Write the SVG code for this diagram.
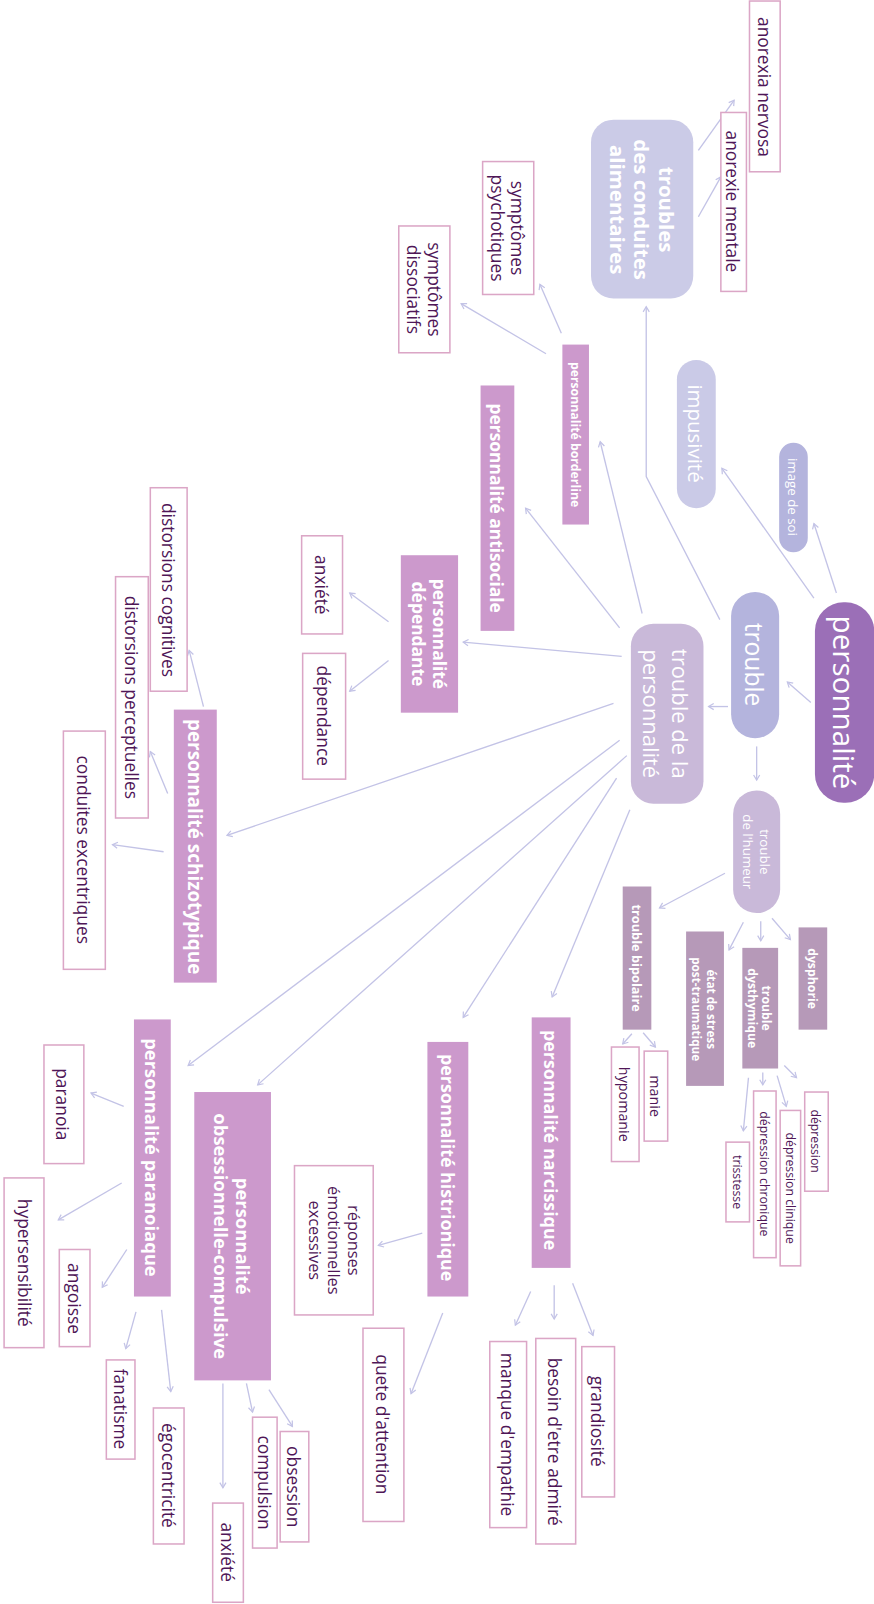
<svg xmlns="http://www.w3.org/2000/svg" width="874" height="1604" viewBox="0 0 874 1604">
<defs>
<marker id="ah" markerWidth="8" markerHeight="8" refX="6" refY="4" orient="auto" markerUnits="userSpaceOnUse">
<path d="M1,1 L6,4 L1,7" fill="none" stroke="#c3c3e6" stroke-width="1.2"/>
</marker>
<style>
text{font-family:"Open Sans","Noto Sans","Liberation Sans",sans-serif;text-anchor:middle;dominant-baseline:central}
.w{fill:#ffffff}
.b{font-weight:bold}
.leaf rect{fill:#ffffff;stroke:#dba6c6;stroke-width:1.5}
.leaf text{fill:#4f1657}
.pp rect{fill:#cc99cc}
.pp text{fill:#ffffff;font-weight:bold}
.md rect{fill:#b699b8}
.md text{fill:#ffffff;font-weight:bold}
#connectors line,#connectors polyline{stroke:#c3c3e6;stroke-width:1.3;fill:none;marker-end:url(#ah)}
</style>
</defs>
<rect width="874" height="1604" fill="#ffffff"/>
<g transform="scale(1.0225)">
<g id="connectors">
<line x1="793" y1="687" x2="770" y2="667"/>
<line x1="818" y1="580" x2="796" y2="512"/>
<line x1="796" y1="585" x2="706" y2="458"/>
<line x1="712" y1="691" x2="693" y2="691"/>
<line x1="740" y1="730" x2="740" y2="763"/>
<polyline points="704,606 632,466 632,300"/>
<line x1="683" y1="147" x2="718" y2="98"/>
<line x1="683" y1="212" x2="705" y2="173"/>
<line x1="628" y1="600" x2="587" y2="432"/>
<line x1="606" y1="614" x2="514" y2="497"/>
<line x1="608" y1="642" x2="453" y2="628"/>
<line x1="600" y1="688" x2="222" y2="817"/>
<line x1="606" y1="724" x2="184" y2="1042"/>
<line x1="613" y1="739" x2="252" y2="1061"/>
<line x1="603" y1="761" x2="453" y2="995"/>
<line x1="616" y1="792" x2="540" y2="975"/>
<line x1="709" y1="854" x2="645" y2="888"/>
<line x1="727" y1="902" x2="713" y2="929"/>
<line x1="744" y1="901" x2="744" y2="920"/>
<line x1="755" y1="898" x2="773" y2="919"/>
<line x1="549" y1="326" x2="528" y2="278"/>
<line x1="534" y1="346" x2="451" y2="297"/>
<line x1="380" y1="608" x2="342" y2="580"/>
<line x1="380" y1="646" x2="342" y2="676"/>
<line x1="199" y1="691" x2="185" y2="636"/>
<line x1="164" y1="776" x2="147" y2="735"/>
<line x1="160" y1="833" x2="110" y2="826"/>
<line x1="629" y1="1010" x2="641" y2="1024"/>
<line x1="618" y1="1011" x2="609" y2="1021"/>
<line x1="767" y1="1042" x2="779" y2="1054"/>
<line x1="760" y1="1052" x2="769" y2="1082"/>
<line x1="746" y1="1049" x2="746" y2="1061"/>
<line x1="732" y1="1054" x2="727" y2="1106"/>
<line x1="560" y1="1255" x2="580" y2="1306"/>
<line x1="542" y1="1257" x2="542" y2="1290"/>
<line x1="519" y1="1263" x2="504" y2="1296"/>
<line x1="433" y1="1284" x2="402" y2="1363"/>
<line x1="413" y1="1206" x2="370" y2="1218"/>
<line x1="121" y1="1082" x2="89" y2="1069"/>
<line x1="119" y1="1157" x2="57" y2="1193"/>
<line x1="124" y1="1222" x2="100" y2="1259"/>
<line x1="133" y1="1283" x2="123" y2="1319"/>
<line x1="158" y1="1281" x2="167" y2="1361"/>
<line x1="218" y1="1353" x2="218" y2="1455"/>
<line x1="241" y1="1353" x2="247" y2="1381"/>
<line x1="263" y1="1359" x2="286" y2="1395"/>
</g>

<g id="n-personnalite"><rect x="797" y="589" width="58" height="196" rx="28" fill="#9b6fb7"/><text class="w" transform="translate(826,687) rotate(90)" font-size="29">personnalité</text></g>
<g id="n-trouble"><rect x="715" y="579" width="47" height="143" rx="23.5" fill="#b4b4dd"/><text class="w" transform="translate(738,650) rotate(90)" font-size="24">trouble</text></g>
<g id="n-tdlp"><rect x="617" y="610" width="71" height="176" rx="22" fill="#c9b9d9"/><text class="w" transform="translate(652,698) rotate(90)" font-size="21.5"><tspan x="0" y="-14">trouble de la</tspan><tspan x="0" y="14">personnalité</tspan></text></g>
<g id="n-humeur"><rect x="717" y="773" width="46" height="120" rx="23" fill="#c9b9d9"/><text class="w" transform="translate(740,833) rotate(90)" font-size="13"><tspan x="0" y="-8">trouble</tspan><tspan x="0" y="8">de l'humeur</tspan></text></g>
<g id="n-image"><rect x="762" y="433" width="28" height="107" rx="14" fill="#b4b4dd"/><text class="w" transform="translate(776,486) rotate(90)" font-size="13">image de soi</text></g>
<g id="n-impulsivite"><rect x="662" y="352" width="38" height="145" rx="19" fill="#cacae7"/><text class="w" transform="translate(681,424) rotate(90)" font-size="20">impusivité</text></g>
<g id="n-tca"><rect x="578" y="117" width="100" height="175" rx="22" fill="#cbcbe7"/><text class="w b" transform="translate(628,205) rotate(90)" font-size="20"><tspan x="0" y="-24">troubles</tspan><tspan x="0" y="0">des conduites</tspan><tspan x="0" y="24">alimentaires</tspan></text></g>

<g id="n-anorexia" class="leaf"><rect x="733" y="1" width="30" height="167"/><text transform="translate(748,85) rotate(90)" font-size="17">anorexia nervosa</text></g>
<g id="n-anorexie" class="leaf"><rect x="705" y="110" width="25" height="175"/><text transform="translate(717,197) rotate(90)" font-size="17">anorexie mentale</text></g>
<g id="n-psychotiques" class="leaf"><rect x="472" y="158" width="50" height="130"/><text transform="translate(497,223) rotate(90)" font-size="17"><tspan x="0" y="-10">symptômes</tspan><tspan x="0" y="10">psychotiques</tspan></text></g>
<g id="n-dissociatifs" class="leaf"><rect x="390" y="221" width="50" height="124"/><text transform="translate(415,283) rotate(90)" font-size="17"><tspan x="0" y="-10">symptômes</tspan><tspan x="0" y="10">dissociatifs</tspan></text></g>

<g id="n-borderline" class="pp"><rect x="550" y="337" width="26" height="176"/><text transform="translate(563,425) rotate(90)" font-size="12">personnalité borderline</text></g>
<g id="n-antisociale" class="pp"><rect x="470" y="377" width="33" height="240"/><text transform="translate(486,497) rotate(90)" font-size="17">personnalité antisociale</text></g>
<g id="n-dependante" class="pp"><rect x="392" y="543" width="56" height="154"/><text transform="translate(420,620) rotate(90)" font-size="17"><tspan x="0" y="-10">personnalité</tspan><tspan x="0" y="10">dépendante</tspan></text></g>
<g id="n-anxiete1" class="leaf"><rect x="295" y="524" width="40" height="96"/><text transform="translate(315,572) rotate(90)" font-size="17">anxiété</text></g>
<g id="n-dependance" class="leaf"><rect x="296" y="639" width="42" height="123"/><text transform="translate(317,700) rotate(90)" font-size="17">dépendance</text></g>

<g id="n-schizotypique" class="pp"><rect x="170" y="694" width="42" height="267"/><text transform="translate(191,828) rotate(90)" font-size="18.5">personnalité schizotypique</text></g>
<g id="n-cognitives" class="leaf"><rect x="147" y="477" width="36" height="199"/><text transform="translate(165,577) rotate(90)" font-size="17">distorsions cognitives</text></g>
<g id="n-perceptuelles" class="leaf"><rect x="113" y="564" width="32" height="236"/><text transform="translate(129,682) rotate(90)" font-size="17">distorsions perceptuelles</text></g>
<g id="n-excentriques" class="leaf"><rect x="62" y="715" width="41" height="233"/><text transform="translate(82,831) rotate(90)" font-size="17">conduites excentriques</text></g>

<g id="n-bipolaire" class="md"><rect x="609" y="867" width="28" height="140"/><text transform="translate(623,937) rotate(90)" font-size="12.5">trouble bipolaire</text></g>
<g id="n-stress" class="md"><rect x="671" y="911" width="37" height="151"/><text transform="translate(689,987) rotate(90)" font-size="11.5"><tspan x="0" y="-7">état de stress</tspan><tspan x="0" y="7">post-traumatique</tspan></text></g>
<g id="n-dysthymique" class="md"><rect x="726" y="927" width="35" height="118"/><text transform="translate(743,986) rotate(90)" font-size="12"><tspan x="0" y="-7">trouble</tspan><tspan x="0" y="7">dysthymique</tspan></text></g>
<g id="n-dysphorie" class="md"><rect x="781" y="907" width="28" height="100"/><text transform="translate(795,957) rotate(90)" font-size="12">dysphorie</text></g>

<g id="n-manie" class="leaf"><rect x="630" y="1028" width="23" height="88"/><text transform="translate(641,1072) rotate(90)" font-size="14">manie</text></g>
<g id="n-hypomanie" class="leaf"><rect x="598" y="1024" width="27" height="112"/><text transform="translate(611,1080) rotate(90)" font-size="14">hypomanie</text></g>
<g id="n-depression" class="leaf"><rect x="787" y="1068" width="23" height="97"/><text transform="translate(798,1116) rotate(90)" font-size="12">dépression</text></g>
<g id="n-clinique" class="leaf"><rect x="763" y="1086" width="20" height="152"/><text transform="translate(773,1162) rotate(90)" font-size="12">dépression clinique</text></g>
<g id="n-chronique" class="leaf"><rect x="737" y="1067" width="22" height="163"/><text transform="translate(748,1148) rotate(90)" font-size="12">dépression chronique</text></g>
<g id="n-trisstesse" class="leaf"><rect x="710" y="1117" width="23" height="78"/><text transform="translate(721,1156) rotate(90)" font-size="12">trisstesse</text></g>

<g id="n-narcissique" class="pp"><rect x="520" y="995" width="38" height="245"/><text transform="translate(539,1115) rotate(90)" font-size="17.5">personnalité narcissique</text></g>
<g id="n-grandiosite" class="leaf"><rect x="569" y="1317" width="32" height="147"/><text transform="translate(585,1390) rotate(90)" font-size="17">grandiosité</text></g>
<g id="n-admire" class="leaf"><rect x="524" y="1309" width="39" height="201"/><text transform="translate(543,1410) rotate(90)" font-size="17">besoin d'etre admiré</text></g>
<g id="n-empathie" class="leaf"><rect x="479" y="1312" width="36" height="182"/><text transform="translate(497,1403) rotate(90)" font-size="17">manque d'empathie</text></g>

<g id="n-histrionique" class="pp"><rect x="418" y="1019" width="40" height="249"/><text transform="translate(438,1142) rotate(90)" font-size="17.5">personnalité histrionique</text></g>
<g id="n-reponses" class="leaf"><rect x="288" y="1140" width="77" height="146"/><text transform="translate(327,1213) rotate(90)" font-size="16"><tspan x="0" y="-19">réponses</tspan><tspan x="0" y="0">émotionnelles</tspan><tspan x="0" y="19">excessives</tspan></text></g>
<g id="n-attention" class="leaf"><rect x="355" y="1299" width="40" height="189"/><text transform="translate(375,1393) rotate(90)" font-size="17">quete d'attention</text></g>

<g id="n-paranoiaque" class="pp"><rect x="131" y="997" width="36" height="271"/><text transform="translate(149,1132) rotate(90)" font-size="18">personnalité paranoiaque</text></g>
<g id="n-paranoia" class="leaf"><rect x="43" y="1022" width="39" height="116"/><text transform="translate(62,1080) rotate(90)" font-size="17">paranoia</text></g>
<g id="n-hypersensibilite" class="leaf"><rect x="4" y="1152" width="39" height="166"/><text transform="translate(24,1235) rotate(90)" font-size="17">hypersensibilité</text></g>
<g id="n-angoisse" class="leaf"><rect x="58" y="1222" width="30" height="95"/><text transform="translate(73,1270) rotate(90)" font-size="17">angoisse</text></g>
<g id="n-fanatisme" class="leaf"><rect x="104" y="1330" width="28" height="97"/><text transform="translate(118,1378) rotate(90)" font-size="17">fanatisme</text></g>
<g id="n-egocentricite" class="leaf"><rect x="150" y="1377" width="30" height="133"/><text transform="translate(165,1443) rotate(90)" font-size="17">égocentricité</text></g>

<g id="n-obsessionnelle" class="pp"><rect x="190" y="1068" width="75" height="282"/><text transform="translate(228,1209) rotate(90)" font-size="18"><tspan x="0" y="-11">personnalité</tspan><tspan x="0" y="11">obsessionnelle-compulsive</tspan></text></g>
<g id="n-anxiete2" class="leaf"><rect x="208" y="1470" width="30" height="97"/><text transform="translate(223,1518) rotate(90)" font-size="17">anxiété</text></g>
<g id="n-compulsion" class="leaf"><rect x="247" y="1386" width="24" height="128"/><text transform="translate(259,1450) rotate(90)" font-size="17">compulsion</text></g>
<g id="n-obsession" class="leaf"><rect x="274" y="1400" width="28" height="108"/><text transform="translate(288,1454) rotate(90)" font-size="17">obsession</text></g>
</g>
</svg>
